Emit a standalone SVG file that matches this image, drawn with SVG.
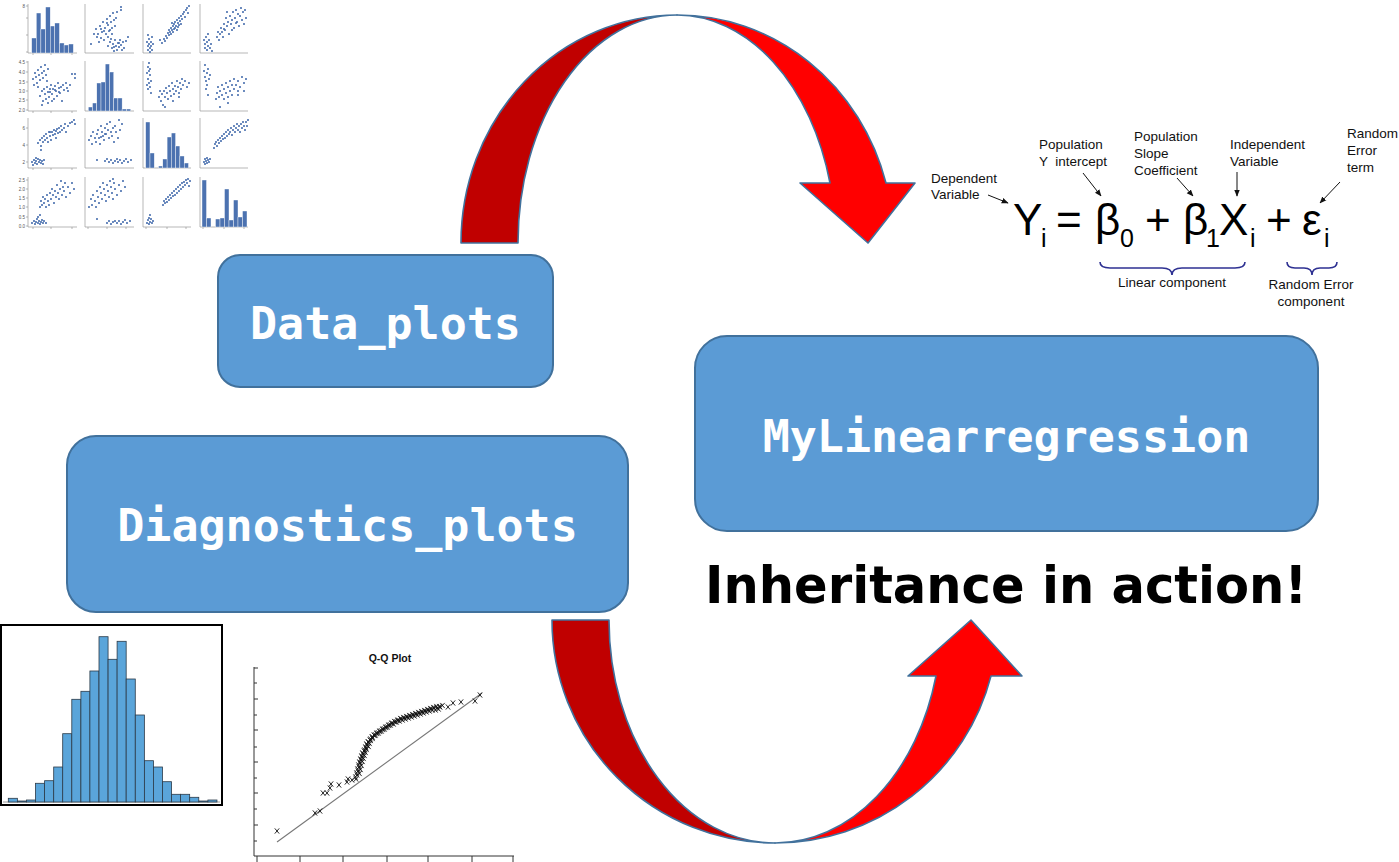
<svg xmlns="http://www.w3.org/2000/svg" xmlns:xlink="http://www.w3.org/1999/xlink" width="1399" height="862" viewBox="0 0 1399 862">
<style>
.box{fill:#5B9BD5;stroke:#41719C;stroke-width:2}
.boxt{font-family:"DejaVu Sans Mono","Liberation Mono",monospace;font-weight:bold;font-size:45px;fill:#fff;text-anchor:middle}
.arrD{fill:#C00000;stroke:#41719C;stroke-width:1.6;stroke-linejoin:round}
.arrR{fill:#FF0000;stroke:#41719C;stroke-width:1.6;stroke-linejoin:round}
.lbl{font-family:"Liberation Sans",Arial,sans-serif;font-size:13.5px;fill:#111}
.eq{font-family:"Liberation Sans",Arial,sans-serif;font-size:44px;fill:#000}
.sub{font-family:"Liberation Sans",Arial,sans-serif;font-size:25px;fill:#000}
.brace{fill:none;stroke:#2E3192;stroke-width:1.6}
.thin{stroke:#111;stroke-width:1;fill:none}
.ax{stroke:#9a9a9a;stroke-width:0.7;fill:none}
.pts{fill:none;stroke:#4C72B0;stroke-width:2.2;stroke-linecap:round}
.hb{fill:#4C72B0;stroke:#fff;stroke-width:0.4}
.tk{font-family:"Liberation Sans",Arial,sans-serif;font-size:4.5px;fill:#555;text-anchor:end}
.hist{fill:#5AA5DA;stroke:#2b3a48;stroke-width:0.8}
.qx{stroke:#111;stroke-width:0.9;fill:none}
.big{font-family:"DejaVu Sans","Liberation Sans",sans-serif;font-weight:bold;font-size:52px;fill:#000}
</style>
<defs>
<marker id="ah" viewBox="0 0 10 10" refX="9" refY="5" markerWidth="7" markerHeight="7" orient="auto-start-reverse">
<path d="M0,1 L10,5 L0,9 z" fill="#111"/>
</marker>
<path id="xm" class="qx" d="M-2.2,-2.6L2.2,2.6M2.2,-2.6L-2.2,2.6"/>
</defs>

<!-- Scatter matrix -->
<g id="scatter-matrix">
<g class="ax">
<path d="M28,4V53H77M85,4V53H134M143,4V53H191M200,4V53H248"/>
<path d="M28,61V111H77M85,61V111H134M143,61V111H191M200,61V111H248"/>
<path d="M28,118V168H77M85,118V168H134M143,118V168H191M200,118V168H248"/>
<path d="M28,177V227H77M85,177V227H134M143,177V227H191M200,177V227H248"/>
<path d="M26,62H28M26,72H28M26,82H28M26,91H28M26,100H28M26,110H28M26,180H28M26,189H28M26,198H28M26,207H28M26,217H28M26,226H28M26,128H28M26,145H28M26,162H28M26,6H28M26,18H28M26,35H28M26,52H28"/>
<path d="M33,53V55M51,53V55M72,53V55M33,111V113M51,111V113M72,111V113M33,168V170M51,168V170M72,168V170M33,227V229M51,227V229M72,227V229M88,227V229M107,227V229M126,227V229M146,227V229M167,227V229M186,227V229M203,227V229M224,227V229M244,227V229"/>
</g>
<text class="tk" x="25" y="63.5">4.5</text><text class="tk" x="25" y="73.5">4.0</text><text class="tk" x="25" y="83.5">3.5</text><text class="tk" x="25" y="92.5">3.0</text><text class="tk" x="25" y="101.5">2.5</text><text class="tk" x="25" y="111.5">2.0</text>
<text class="tk" x="25" y="129.5">6</text><text class="tk" x="25" y="146.5">4</text><text class="tk" x="25" y="163.5">2</text>
<text class="tk" x="25" y="181.5">2.5</text><text class="tk" x="25" y="190.5">2.0</text><text class="tk" x="25" y="199.5">1.5</text><text class="tk" x="25" y="208.5">1.0</text><text class="tk" x="25" y="218.5">0.5</text><text class="tk" x="25" y="227.5">0.0</text>
<text class="tk" x="25" y="7.5">8</text>
<!-- histograms -->
<g>
<rect class="hb" x="31.7" y="38" width="4.63" height="15"/><rect class="hb" x="36.3" y="13" width="4.63" height="40"/><rect class="hb" x="40.9" y="29" width="4.63" height="24"/><rect class="hb" x="45.6" y="7" width="4.63" height="46"/><rect class="hb" x="50.2" y="26" width="4.63" height="27"/><rect class="hb" x="54.8" y="23" width="4.63" height="30"/><rect class="hb" x="59.5" y="43" width="4.63" height="10"/><rect class="hb" x="64.1" y="45" width="4.63" height="8"/><rect class="hb" x="68.7" y="44" width="4.63" height="9"/>
<rect class="hb" x="88.3" y="107" width="4.23" height="4"/><rect class="hb" x="92.5" y="103" width="4.23" height="8"/><rect class="hb" x="96.8" y="83" width="4.23" height="28"/><rect class="hb" x="101" y="82" width="4.23" height="29"/><rect class="hb" x="105.2" y="64" width="4.23" height="47"/><rect class="hb" x="109.5" y="72" width="4.23" height="39"/><rect class="hb" x="113.7" y="98" width="4.23" height="13"/><rect class="hb" x="117.9" y="98" width="4.23" height="13"/><rect class="hb" x="122.1" y="109" width="4.23" height="2"/><rect class="hb" x="126.4" y="109" width="4.23" height="2"/>
<rect class="hb" x="145.7" y="122" width="4.27" height="46"/><rect class="hb" x="150" y="153" width="4.27" height="15"/><rect class="hb" x="158.5" y="166" width="4.27" height="2"/><rect class="hb" x="162.8" y="159" width="4.27" height="9"/><rect class="hb" x="167.1" y="137" width="4.27" height="31"/><rect class="hb" x="171.3" y="133" width="4.27" height="35"/><rect class="hb" x="175.6" y="146" width="4.27" height="22"/><rect class="hb" x="179.9" y="156" width="4.27" height="12"/><rect class="hb" x="184.2" y="163" width="4.27" height="5"/>
<rect class="hb" x="202" y="180" width="4.5" height="47"/><rect class="hb" x="206.5" y="218" width="4.5" height="9"/><rect class="hb" x="215.5" y="219" width="4.5" height="8"/><rect class="hb" x="220" y="218" width="4.5" height="9"/><rect class="hb" x="224.5" y="189" width="4.5" height="38"/><rect class="hb" x="229" y="220" width="4.5" height="7"/><rect class="hb" x="233.5" y="200" width="4.5" height="27"/><rect class="hb" x="238" y="217" width="4.5" height="10"/><rect class="hb" x="242.5" y="211" width="4.5" height="16"/>
</g>
<!-- scatter panels -->
<g id="pts" class="pts">
<path transform="translate(88,4)" d="M8 25h0M10 30h0M12 22h0M14 28h0M15 18h0M17 24h0M18 30h0M19 15h0M20 21h0M21 27h0M22 12h0M23 18h0M24 24h0M25 9h0M26 16h0M27 22h0M13 34h0M16 36h0M9 33h0M11 38h0M28 14h0M29 8h0M33 3h0M33 6h0M20 33h0M6 30h0M24 30h0M20 42h0M22 38h0M24 44h0M25 40h0M27 36h0M28 42h0M29 46h0M30 39h0M31 43h0M32 36h0M33 41h0M35 38h0M36 44h0M38 37h0M40 33h0M26 47h0M34 46h0M23 35h0M3 40h0M16 27h0M22 26h0M19 19h0M13 25h0M31 39h0M26 43h0"/>
<path transform="translate(145,4)" d="M2 38h0M3 42h0M3 46h0M4 35h0M4 40h0M5 44h0M5 48h0M6 38h0M6 42h0M7 33h0M7 46h0M8 40h0M3 31h0M17 39h0M19 35h0M20 37h0M21 32h0M22 34h0M23 29h0M24 31h0M24 26h0M25 28h0M26 24h0M26 30h0M27 26h0M28 22h0M28 28h0M29 20h0M30 24h0M30 18h0M31 22h0M32 16h0M32 26h0M33 19h0M34 14h0M34 21h0M35 17h0M36 12h0M37 15h0M38 10h0M39 8h0M40 13h0M41 6h0M42 4h0M43 9h0M44 2h0M36 20h0M15 36h0M29 25h0M33 23h0M27 19h0"/>
<path transform="translate(202,4)" d="M2 36h0M3 40h0M3 44h0M4 33h0M5 38h0M5 46h0M6 42h0M7 36h0M8 44h0M9 40h0M6 30h0M10 47h0M15 33h0M16 28h0M17 36h0M18 30h0M19 24h0M20 28h0M21 33h0M22 20h0M23 26h0M24 14h0M25 22h0M26 18h0M27 30h0M28 12h0M29 20h0M30 16h0M31 8h0M32 24h0M33 14h0M34 6h0M35 18h0M36 10h0M37 22h0M38 12h0M39 4h0M40 16h0M41 8h0M42 20h0M43 6h0M44 14h0M30 26h0M25 8h0M22 25h0M34 19h0"/>
<path transform="translate(30,61)" d="M3 18h0M5 12h0M6 16h0M7 22h0M8 9h0M9 14h0M10 19h0M11 6h0M12 12h0M13 17h0M14 10h0M15 4h0M16 14h0M17 20h0M18 8h0M8 26h0M4 24h0M10 35h0M12 30h0M13 40h0M14 28h0M15 33h0M16 38h0M17 26h0M18 31h0M19 36h0M20 28h0M21 24h0M22 33h0M23 28h0M24 38h0M25 25h0M26 30h0M27 35h0M28 22h0M29 27h0M30 32h0M31 26h0M32 40h0M33 24h0M34 29h0M36 22h0M37 27h0M38 30h0M40 24h0M42 13h0M45 13h0M45 17h0M12 44h0M18 42h0M22 40h0M20 31h0M25 29h0M29 31h0"/>
<path transform="translate(145,61)" d="M2 12h0M3 6h0M3 18h0M4 10h0M4 22h0M5 14h0M5 26h0M3 28h0M4 2h0M6 20h0M2 24h0M6 32h0M5 8h0M14 36h0M15 30h0M16 40h0M17 33h0M18 44h0M19 30h0M20 36h0M21 27h0M22 32h0M23 38h0M24 25h0M25 30h0M26 35h0M27 22h0M28 28h0M29 33h0M30 25h0M31 30h0M32 20h0M33 26h0M34 32h0M35 22h0M36 28h0M37 18h0M38 24h0M40 20h0M42 26h0M44 22h0M20 46h0M28 40h0M34 36h0"/>
<path transform="translate(202,61)" d="M2 10h0M3 4h0M3 16h0M4 20h0M5 12h0M5 24h0M6 8h0M7 18h0M4 28h0M6 34h0M8 14h0M14 38h0M15 32h0M16 26h0M17 36h0M18 30h0M20 24h0M20 34h0M22 28h0M22 38h0M24 22h0M24 32h0M26 26h0M26 36h0M28 20h0M28 30h0M30 24h0M30 34h0M32 18h0M32 28h0M34 24h0M36 30h0M36 20h0M38 26h0M40 16h0M42 22h0M44 18h0M18 46h0M26 42h0M36 34h0M42 30h0"/>
<path transform="translate(30,118)" d="M2 44h0M3 47h0M4 42h0M5 45h0M6 43h0M7 46h0M8 41h0M9 44h0M10 42h0M11 45h0M12 43h0M13 46h0M14 42h0M6 40h0M8 25h0M10 22h0M11 28h0M12 20h0M13 24h0M14 18h0M15 22h0M16 16h0M17 20h0M18 24h0M19 14h0M20 18h0M21 22h0M22 14h0M23 17h0M24 12h0M25 16h0M26 20h0M27 11h0M28 15h0M29 10h0M30 14h0M31 8h0M32 12h0M34 10h0M35 6h0M36 14h0M38 8h0M40 5h0M42 4h0M44 2h0M45 6h0M11 32h0M20 14h0M26 13h0"/>
<path transform="translate(87,118)" d="M18 43h0M20 41h0M22 44h0M24 42h0M26 45h0M28 43h0M30 41h0M31 44h0M33 42h0M35 45h0M37 43h0M39 41h0M41 44h0M44 42h0M10 42h0M2 22h0M4 18h0M5 26h0M6 14h0M8 20h0M9 24h0M10 16h0M11 12h0M12 20h0M13 26h0M14 8h0M15 14h0M16 18h0M17 22h0M18 10h0M19 16h0M20 6h0M21 12h0M22 20h0M23 4h0M24 14h0M25 18h0M26 10h0M27 24h0M28 8h0M29 14h0M31 20h0M33 12h0M35 6h0M32 2h0M18 16h0M14 19h0"/>
<path transform="translate(202,118)" d="M2 44h0M3 41h0M3 46h0M4 43h0M5 40h0M5 45h0M6 42h0M7 44h0M8 41h0M12 30h0M13 26h0M14 24h0M15 28h0M16 22h0M17 25h0M18 20h0M19 23h0M20 18h0M21 21h0M22 16h0M23 20h0M24 14h0M25 18h0M26 12h0M27 16h0M28 14h0M29 10h0M30 17h0M31 12h0M32 8h0M33 14h0M34 10h0M35 6h0M36 12h0M37 8h0M38 14h0M39 6h0M40 10h0M41 4h0M42 8h0M43 12h0M44 4h0M45 8h0M46 2h0"/>
<path transform="translate(30,177)" d="M2 46h0M4 44h0M5 47h0M6 45h0M7 42h0M8 46h0M9 44h0M10 47h0M11 45h0M12 43h0M13 46h0M14 44h0M16 46h0M8 40h0M10 38h0M10 30h0M11 24h0M12 28h0M13 20h0M14 26h0M15 22h0M16 30h0M17 18h0M18 24h0M19 28h0M20 16h0M21 22h0M22 12h0M23 18h0M24 26h0M25 14h0M26 20h0M27 8h0M28 16h0M29 22h0M30 12h0M31 4h0M32 18h0M33 10h0M34 14h0M35 6h0M36 20h0M38 10h0M40 16h0M42 6h0M44 12h0"/>
<path transform="translate(87,177)" d="M20 46h0M22 44h0M24 47h0M26 45h0M28 44h0M30 46h0M32 44h0M34 47h0M36 45h0M38 43h0M40 46h0M43 44h0M10 42h0M2 30h0M4 22h0M5 28h0M6 18h0M8 24h0M9 30h0M10 14h0M11 20h0M12 26h0M13 10h0M14 16h0M15 22h0M16 6h0M17 12h0M18 18h0M19 24h0M20 8h0M21 14h0M22 20h0M23 4h0M24 10h0M25 16h0M26 22h0M27 6h0M28 12h0M30 18h0M32 8h0M34 14h0M36 4h0M38 10h0M26 2h0"/>
<path transform="translate(145,177)" d="M2 46h0M3 43h0M4 47h0M4 41h0M5 45h0M6 42h0M7 46h0M8 44h0M5 38h0M18 28h0M19 24h0M20 26h0M21 22h0M22 25h0M23 20h0M24 23h0M25 18h0M26 21h0M27 16h0M28 19h0M29 14h0M30 18h0M31 12h0M32 16h0M33 10h0M34 14h0M35 8h0M36 12h0M37 6h0M38 10h0M39 5h0M40 8h0M41 3h0M42 6h0M43 2h0M44 9h0M45 4h0"/>
</g>
</g>

<!-- Connectors: curved arrows -->
<g id="connectors">
<path class="arrD" d="M461,243 A216,228 0 0 1 677,15 A159,228 0 0 0 518,243 Z"/>
<path class="arrR" d="M677,15 A216,228 0 0 1 886,183 L915,183 L868,243 L800,183 L830,183 A159,228 0 0 0 677,15 Z"/>
<path class="arrD" d="M552,620 A223,223 0 0 0 775,843 A166,223 0 0 1 609,620 Z"/>
<path class="arrR" d="M775,843 A223,223 0 0 0 991,676 L1022,676 L971,620 L908,676 L936,676 A166,223 0 0 1 775,843 Z"/>
</g>

<!-- Nodes -->
<g id="node-data-plots">
<rect class="box" x="218" y="255" width="335" height="132" rx="22"/>
<text class="boxt" x="385.5" y="339">Data_plots</text>
</g>
<g id="node-diagnostics-plots">
<rect class="box" x="67" y="436" width="561" height="176" rx="29"/>
<text class="boxt" x="347.5" y="541">Diagnostics_plots</text>
</g>
<g id="node-mylinearregression">
<rect class="box" x="695" y="336" width="623" height="195" rx="32"/>
<text class="boxt" x="1006.5" y="452">MyLinearregression</text>
</g>

<g id="caption">
<text class="big" x="705" y="603" textLength="602" lengthAdjust="spacingAndGlyphs">Inheritance in action!</text>
</g>

<!-- Equation -->
<g id="equation">
<text class="lbl" x="931" y="183">Dependent</text>
<text class="lbl" x="931" y="199">Variable</text>
<text class="lbl" x="1039" y="149">Population</text>
<text class="lbl" x="1039" y="166" xml:space="preserve">Y  intercept</text>
<text class="lbl" x="1134" y="141">Population</text>
<text class="lbl" x="1134" y="158">Slope</text>
<text class="lbl" x="1134" y="175">Coefficient</text>
<text class="lbl" x="1230" y="149">Independent</text>
<text class="lbl" x="1230" y="166">Variable</text>
<text class="lbl" x="1347" y="138">Random</text>
<text class="lbl" x="1347" y="155">Error</text>
<text class="lbl" x="1347" y="172">term</text>
<g class="thin">
<line x1="988" y1="195" x2="1008" y2="203" marker-end="url(#ah)"/>
<line x1="1083" y1="173" x2="1101" y2="196" marker-end="url(#ah)"/>
<line x1="1177" y1="178" x2="1193" y2="196" marker-end="url(#ah)"/>
<line x1="1237" y1="172" x2="1237" y2="196" marker-end="url(#ah)"/>
<line x1="1340" y1="182" x2="1320" y2="203" marker-end="url(#ah)"/>
</g>
<text class="eq" x="1013" y="235">Y</text>
<text class="sub" x="1041" y="247">i</text>
<text class="eq" x="1056" y="235">=</text>
<text class="eq" x="1095" y="235">β</text>
<text class="sub" x="1120" y="247">0</text>
<text class="eq" x="1145" y="235">+</text>
<text class="eq" x="1183" y="235">β</text>
<text class="sub" x="1206" y="247">1</text>
<text class="eq" x="1219" y="235">X</text>
<text class="sub" x="1250" y="247">i</text>
<text class="eq" x="1266" y="235">+</text>
<text class="eq" x="1302" y="235">ε</text>
<text class="sub" x="1324" y="247">i</text>
<path class="brace" d="M1100,262 Q1100,268 1110,268 L1162,268 Q1172,268 1172,275 Q1172,268 1182,268 L1235,268 Q1245,268 1245,262"/>
<path class="brace" d="M1287,262 Q1287,268 1295,268 L1304,268 Q1312,268 1312,275 Q1312,268 1320,268 L1329,268 Q1337,268 1337,262"/>
<text class="lbl" x="1172" y="287" text-anchor="middle">Linear component</text>
<text class="lbl" x="1311" y="289" text-anchor="middle">Random Error</text>
<text class="lbl" x="1311" y="306" text-anchor="middle">component</text>
</g>

<!-- Histogram -->
<g id="histogram">
<rect x="1" y="625" width="221" height="180" fill="#fff" stroke="#000" stroke-width="2"/>
<line x1="3" y1="802" x2="220" y2="802" stroke="#999" stroke-width="1"/>
<rect class="hist" x="8.3" y="798.3" width="9.07" height="3.7"/><rect class="hist" x="17.4" y="801" width="9.07" height="1"/><rect class="hist" x="26.4" y="800" width="9.07" height="2"/><rect class="hist" x="35.5" y="783.3" width="9.07" height="18.7"/><rect class="hist" x="44.6" y="780.7" width="9.07" height="21.3"/><rect class="hist" x="53.7" y="767" width="9.07" height="35"/><rect class="hist" x="62.7" y="733.7" width="9.07" height="68.3"/><rect class="hist" x="71.8" y="699.3" width="9.07" height="102.7"/><rect class="hist" x="80.9" y="691.3" width="9.07" height="110.7"/><rect class="hist" x="89.9" y="671" width="9.07" height="131"/><rect class="hist" x="99" y="636.7" width="9.07" height="165.3"/><rect class="hist" x="108.1" y="659.3" width="9.07" height="142.7"/><rect class="hist" x="117.1" y="641.3" width="9.07" height="160.7"/><rect class="hist" x="126.2" y="679" width="9.07" height="123"/><rect class="hist" x="135.3" y="715" width="9.07" height="87"/><rect class="hist" x="144.4" y="760.7" width="9.07" height="41.3"/><rect class="hist" x="153.4" y="767" width="9.07" height="35"/><rect class="hist" x="162.5" y="781.7" width="9.07" height="20.3"/><rect class="hist" x="171.6" y="794.3" width="9.07" height="7.7"/><rect class="hist" x="180.6" y="794.3" width="9.07" height="7.7"/><rect class="hist" x="189.7" y="797.3" width="9.07" height="4.7"/><rect class="hist" x="198.8" y="801" width="9.07" height="1"/><rect class="hist" x="207.9" y="800" width="9.07" height="2"/>
</g>

<!-- Q-Q plot -->
<g id="qq-plot">
<text x="390" y="662" text-anchor="middle" font-family="Liberation Sans,Arial,sans-serif" font-weight="bold" font-size="10.5" fill="#111">Q-Q Plot</text>
<path d="M254,667V856H514" fill="none" stroke="#333" stroke-width="1"/>
<path d="M254,668H258M254,683H257M254,699H258M254,715H257M254,730H258M254,747H257M254,762H258M254,778H257M254,793H258M254,809H257M254,825H258M254,841H257M257,856V862M300,856V862M343,856V862M387,856V862M428,856V862M472,856V862M513,856V862" fill="none" stroke="#333" stroke-width="1"/>
<line x1="277" y1="842" x2="482" y2="693" stroke="#777" stroke-width="1.1"/>
<g id="qq-band">
<use xlink:href="#xm" x="357" y="775"/><use xlink:href="#xm" x="358" y="771"/><use xlink:href="#xm" x="359" y="767"/><use xlink:href="#xm" x="360" y="763"/><use xlink:href="#xm" x="361" y="760"/><use xlink:href="#xm" x="362" y="757"/><use xlink:href="#xm" x="363" y="754"/><use xlink:href="#xm" x="364" y="751"/><use xlink:href="#xm" x="366" y="748"/><use xlink:href="#xm" x="367" y="745"/><use xlink:href="#xm" x="368" y="742"/><use xlink:href="#xm" x="370" y="740"/><use xlink:href="#xm" x="372" y="737"/><use xlink:href="#xm" x="374" y="735"/><use xlink:href="#xm" x="377" y="733"/><use xlink:href="#xm" x="380" y="731"/><use xlink:href="#xm" x="383" y="729"/><use xlink:href="#xm" x="386" y="727"/><use xlink:href="#xm" x="389" y="725"/><use xlink:href="#xm" x="392" y="723"/><use xlink:href="#xm" x="395" y="722"/><use xlink:href="#xm" x="398" y="720"/><use xlink:href="#xm" x="401" y="719"/><use xlink:href="#xm" x="404" y="718"/><use xlink:href="#xm" x="407" y="717"/><use xlink:href="#xm" x="410" y="716"/><use xlink:href="#xm" x="413" y="715"/><use xlink:href="#xm" x="416" y="714"/><use xlink:href="#xm" x="419" y="713"/><use xlink:href="#xm" x="422" y="712"/><use xlink:href="#xm" x="425" y="711"/><use xlink:href="#xm" x="428" y="710"/><use xlink:href="#xm" x="431" y="709"/><use xlink:href="#xm" x="434" y="708"/><use xlink:href="#xm" x="437" y="708"/><use xlink:href="#xm" x="440" y="707"/>
</g>
<use xlink:href="#qq-band" x="2.5" y="-1.5"/>
<use xlink:href="#qq-band" x="-1.5" y="2"/>
<g>
<use xlink:href="#xm" x="277" y="831"/><use xlink:href="#xm" x="315" y="813"/><use xlink:href="#xm" x="320" y="811"/><use xlink:href="#xm" x="323" y="793"/><use xlink:href="#xm" x="327" y="793"/><use xlink:href="#xm" x="330" y="788"/><use xlink:href="#xm" x="331" y="784"/><use xlink:href="#xm" x="339" y="785"/><use xlink:href="#xm" x="347" y="782"/><use xlink:href="#xm" x="348" y="779"/><use xlink:href="#xm" x="352" y="780"/><use xlink:href="#xm" x="356" y="779"/>
<use xlink:href="#xm" x="448" y="707"/><use xlink:href="#xm" x="453" y="703"/><use xlink:href="#xm" x="461" y="702"/><use xlink:href="#xm" x="475" y="701"/><use xlink:href="#xm" x="480" y="695"/>
</g>
</g>
</svg>
